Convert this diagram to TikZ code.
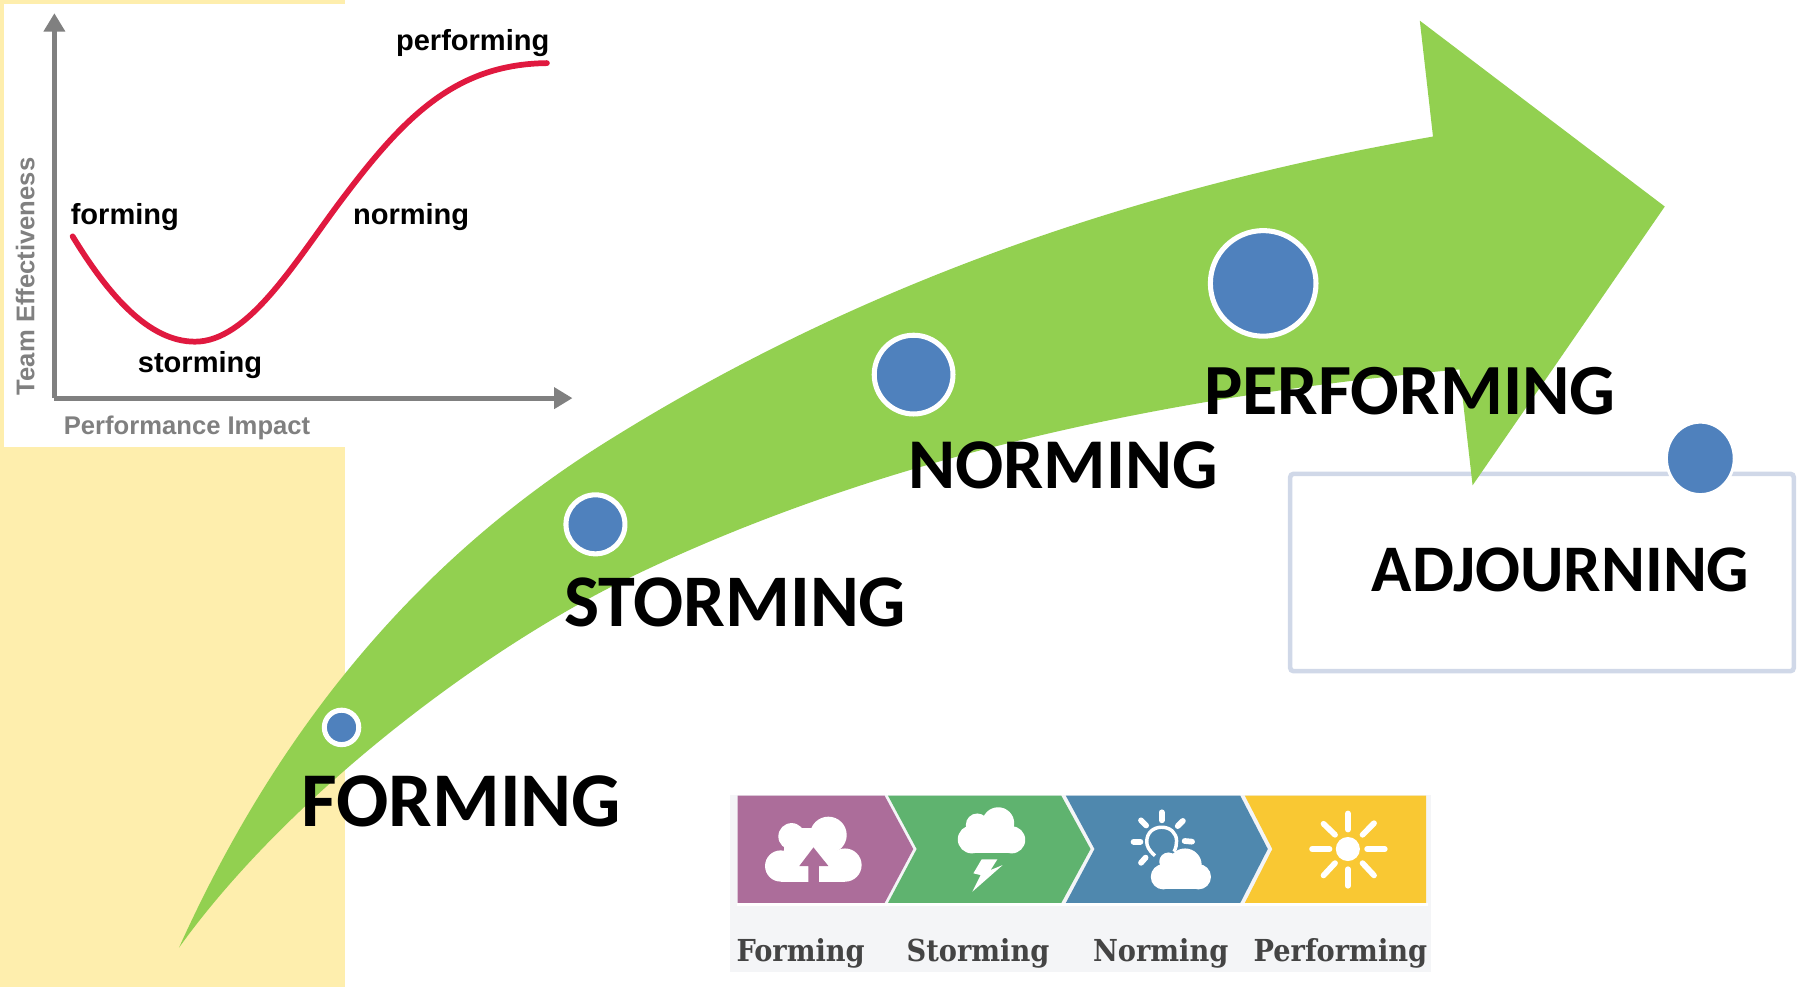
\documentclass[tikz,border=0pt]{standalone}
\usepackage{fontspec}
\setmainfont{Carlito}
\newfontfamily\chartfont{Liberation Sans}
\newfontfamily\stripfont{DejaVu Serif Condensed}
\usepackage{tikz}
\usetikzlibrary{arrows.meta,positioning,shapes.geometric}
\definecolor{padyellow}{HTML}{FEEEAD}
\definecolor{arrowgreen}{HTML}{92D050}
\definecolor{dotblue}{HTML}{4F81BD}
\definecolor{boxline}{HTML}{D0D8E8}
\definecolor{axisgray}{HTML}{808080}
\definecolor{curvered}{HTML}{E0193F}
\definecolor{stripbg}{HTML}{F4F5F7}
\definecolor{chevpurple}{HTML}{AC6D9A}
\definecolor{chevgreen}{HTML}{5FB36F}
\definecolor{chevblue}{HTML}{4F88AE}
\definecolor{chevyellow}{HTML}{F9C833}
\definecolor{striptext}{HTML}{444444}
\tikzset{
  dot/.style={circle,fill=dotblue,draw=white,line width=.44mm,inner sep=0pt},
  stage/.style={anchor=base west,inner sep=0pt,font=\fontsize{#1pt}{22pt}\selectfont\bfseries},
  chartlabel/.style={anchor=base west,inner sep=0pt,font=\fontsize{7.2pt}{9pt}\selectfont\chartfont\bfseries},
  chartaxis/.style={anchor=base west,inner sep=0pt,text=axisgray,font=\fontsize{6.35pt}{8pt}\selectfont\chartfont\bfseries},
  striplabel/.style={anchor=base west,inner sep=0pt,text=striptext,font=\fontsize{7.5pt}{9pt}\selectfont\stripfont\bfseries},
  ray/.style={draw=white,line width=.5mm,line cap=round}
}
\begin{document}
\begin{tikzpicture}[x=.01cm,y=-.01cm]
  \useasboundingbox (0,0) rectangle (1568,860);
  %yellow pad and white chart
    \fill[padyellow] (0,0) rectangle (300.5,860);
    \fill[white] (3.3,3.5) rectangle (300.5,389.5);
  %chart axes
    \coordinate (origin) at (47.4,347);
    \coordinate (ytip) at (47.4,11.5);
    \coordinate (xtip) at (499,347);
    \begin{scope}[every path/.style={-{Triangle[length=1.6mm,width=1.8mm]}}]
       \draw[axisgray,line width=.45mm] (origin) -- (ytip);
       \draw[axisgray,line width=.45mm] (origin) -- (xtip);
    \end{scope}
  %chart curve
    \draw[curvered,line width=.5mm,line cap=round] (63.3,206) .. controls (95,258) and (130,297.8) .. (170,297.8)
       .. controls (215,297.8) and (255,232) .. (293.4,180)
       .. controls (350,104) and (395,56) .. (476.7,55);
  %chart labels
    \node[chartlabel] (cperforming) at (344.5,44) {performing};
    \node[chartlabel] (cforming) at (61,196) {forming};
    \node[chartlabel] (cnorming) at (307,196) {norming};
    \node[chartlabel] (cstorming) at (119.5,325) {storming};
    \node[chartaxis] (cimpact) at (55,379) {Performance Impact};
    \node[chartaxis,rotate=90] (ceffect) at (30,345) {Team Effectiveness};
  %adjourning box, under the arrow
    \draw[boxline,line width=.4mm,rounded corners=.3mm] (1124.5,413) rectangle (1563.5,585);
  %big arrow
    \fill[arrowgreen] (156,826) .. controls (240,640) and (360,489.5) .. (531,383.5)
       .. controls (745,250) and (985,165) .. (1249,119)
       -- (1237.5,18) -- (1451,180) -- (1283.5,423) -- (1272,322)
       .. controls (1020,345) and (770,397) .. (551,502.4)
       .. controls (420,565.3) and (250,695) .. (156,826) -- cycle;
  %draw dots
    \node[dot,minimum size=.3cm] (d1) at (297.7,634) {};
    \node[dot,minimum size=.514cm] (d2) at (519,457) {};
    \node[dot,minimum size=.686cm] (d3) at (796.3,326.5) {};
    \node[dot,minimum size=.92cm] (d4) at (1101,247) {};
    \node[dot,ellipse,minimum width=.59cm,minimum height=.63cm,line width=.25mm] (d5) at (1482,399.5) {};
  %stage names
    \node[stage=19.2] (forming) at (262,720) {FORMING};
    \node[stage=18.4] (storming) at (491,546) {STORMING};
    \node[stage=17.7] (norming) at (791,426) {NORMING};
    \node[stage=17.85] (performing) at (1049,361) {PERFORMING};
    \node[stage=16.5] (adjourning) at (1195,515.5) {ADJOURNING};
  %bottom strip
    \fill[stripbg] (636,690) rectangle (1247,847);
    \fill[white] (636,690) rectangle (1247,693);
    \fill[white] (642,787) rectangle (1245,790);
    \fill[chevpurple] (643,693.5) -- (771,693.5) -- (796,740) -- (771,787) -- (643,787) -- cycle;
    \fill[chevgreen] (774,693.5) -- (925,693.5) -- (950.5,740) -- (925,787) -- (774,787) -- (799,740) -- cycle;
    \fill[chevblue] (929,693.5) -- (1081,693.5) -- (1105,740) -- (1081,787) -- (929,787) -- (954,740) -- cycle;
    \fill[chevyellow] (1085,693.5) -- (1243,693.5) -- (1243,787) -- (1085,787) -- (1109,740) -- cycle;
  %forming icon
    \fill[white] (722,727.8) circle (16);
    \fill[white] (690,729) circle (11.6);
    \fill[white] (680.4,754.8) circle (13.6);
    \fill[white] (736.5,754) circle (14.5);
    \fill[white] (680.4,745) rectangle (736.5,768.5);
    \fill[white] (683,732) rectangle (728,750);
    \fill[white] (695,722) rectangle (714,735);
    \fill[chevpurple] (709,738.6) -- (722,754.8) -- (713.8,754.8) -- (713.8,771) -- (704.6,771) -- (704.6,754.8) -- (696.7,754.8) -- cycle;
  %storming icon
    \fill[white] (870,717.6) circle (14);
    \fill[white] (851.8,719) circle (10);
    \fill[white] (847,731.6) circle (12.2);
    \fill[white] (881.8,732) circle (11.8);
    \fill[white] (847,725) rectangle (881.8,743.8);
    \fill[white] (855.6,749) -- (869.3,749) -- (863.4,758.3) -- (873.9,754) -- (847.5,777.2) -- (854.7,762.7) -- (848.4,761.2) -- cycle;
  %norming icon
    \draw[white,line width=.3mm] (1006.7,745.8) .. controls (1001,741) and (999.5,737) .. (999.5,733.6)
       .. controls (999.5,726) and (1005,721) .. (1012.5,721)
       .. controls (1020,721) and (1025.5,726) .. (1025.5,733) .. controls (1025.5,736) and (1025,739) .. (1023.3,742.3);
    \draw[ray] (1012.5,708) -- (1012.5,715);
    \draw[ray] (994.5,715) -- (999,719.5);
    \draw[ray] (1031,715.5) -- (1026.5,720);
    \draw[ray] (988,733.6) -- (994,733.6);
    \draw[ray] (1032.5,733) -- (1039,733.6);
    \draw[ray] (994.5,752) -- (998.5,747.5);
    \fill[white] (1032.9,754) circle (14.5);
    \fill[white] (1018.4,751) circle (8);
    \fill[white] (1014,764.2) circle (11);
    \fill[white] (1044.5,764.2) circle (11);
    \fill[white] (1014,755) rectangle (1044.5,775.2);
  %performing icon
    \fill[white] (1174.8,740) circle (10.5);
    \draw[ray] (1174.8,709) -- (1174.8,723);
    \draw[ray] (1174.8,757.6) -- (1174.8,772);
    \draw[ray] (1143.6,740) -- (1158.8,740);
    \draw[ray] (1191.6,740) -- (1207,740);
    \draw[ray] (1153.6,718) -- (1163.6,727.6);
    \draw[ray] (1197.6,717.5) -- (1187.6,727.6);
    \draw[ray] (1153.6,763) -- (1163.6,752.3);
    \draw[ray] (1197.6,763) -- (1187.6,752.3);
  %strip labels
    \node[striplabel] (sforming) at (641.3,838) {Forming};
    \node[striplabel] (sstorming) at (789.5,838) {Storming};
    \node[striplabel] (snorming) at (952,838) {Norming};
    \node[striplabel] (sperforming) at (1092,838) {Performing};
\end{tikzpicture}
\end{document}
